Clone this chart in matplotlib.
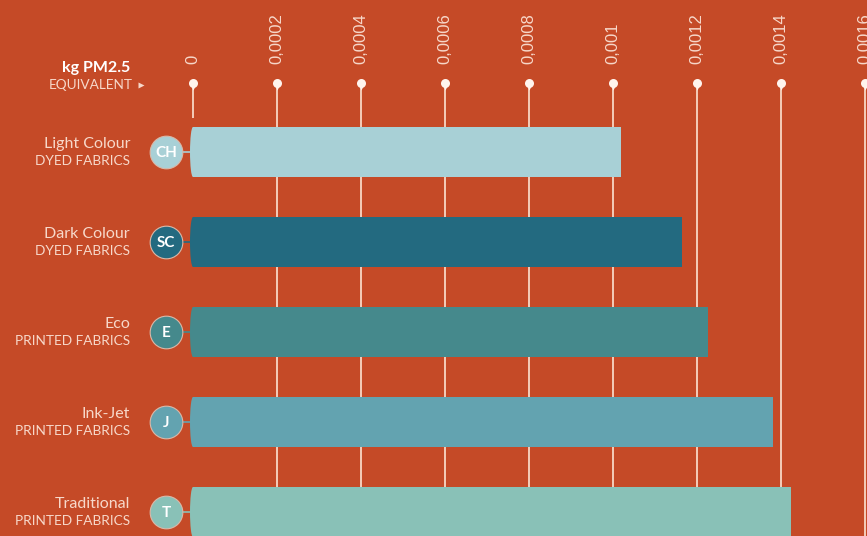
import matplotlib
matplotlib.use("Agg")
import matplotlib.pyplot as plt
from matplotlib.patches import Ellipse

# Emission data (kg PM2.5 equivalent)
codes = ["CH", "SC", "E", "J", "T"]
names = ["Light Colour", "Dark Colour", "Eco", "Ink-Jet", "Traditional"]
kinds = ["DYED FABRICS", "DYED FABRICS", "PRINTED FABRICS", "PRINTED FABRICS", "PRINTED FABRICS"]
values = [0.00102, 0.001165, 0.001225, 0.00138, 0.001424]
tick_values = [0, 0.0002, 0.0004, 0.0006, 0.0008, 0.001, 0.0012, 0.0014, 0.0016]
tick_labels = ["0", "0,0002", "0,0004", "0,0006", "0,0008", "0,001", "0,0012", "0,0014", "0,0016"]

bar_colors = ["#a8d0d6", "#236a80", "#45898c", "#63a3b0", "#89c1b7"]
bg = "#c54a27"
light = "#f7d8ca"
line_col = "#f5cdb9"

W, H = 867, 536
fig = plt.figure(figsize=(W / 100, H / 100), dpi=100, facecolor=bg)
ax = fig.add_axes([0, 0, 1, 1])
ax.set_facecolor(bg)

# pixel layout of the value axis
x0_px, px_per_unit = 193, 420000.0
row0_px, row_px = 152, 90.0
ax.set_xlim(-x0_px / px_per_unit, (W - x0_px) / px_per_unit)
ax.set_ylim((H - row0_px) / row_px, -row0_px / row_px)
ax.axis("off")

def px_x(p):
    return p / px_per_unit

def px_y(p):
    return p / row_px

bar_h = px_y(50)
dot_y = px_y(83 - row0_px)
label_y = px_y(64 - row0_px)

# vertical guide lines with pin heads
for v, lab in zip(tick_values, tick_labels):
    y_end = px_y(118 - row0_px) if v == 0 else px_y(H - row0_px)
    ax.plot([v, v], [dot_y, y_end], color=line_col, lw=1.4, zorder=1,
            solid_capstyle="butt")
    ax.plot([v], [dot_y], marker="o", ms=6.5, color="#fff4ee", mec="none", zorder=3)
    ax.plot([v], [dot_y + px_y(4)], marker="v", ms=4.5, color="#fff4ee", mec="none", zorder=3)
    ax.text(v, label_y, lab, rotation=90, ha="center", va="bottom",
            color=light, fontsize=12, family="Liberation Sans", zorder=3)

ys = list(range(len(values)))
ax.barh(ys, values, height=bar_h, color=bar_colors, zorder=2, linewidth=0)

circ_x = px_x(166 - x0_px)
for y, v, c, code, name, kind in zip(ys, values, bar_colors, codes, names, kinds):
    # slightly rounded left edge of the bar
    ax.add_patch(Ellipse((0, y), width=px_x(6), height=bar_h, color=c, lw=0, zorder=2))
    # connector and badge
    ax.plot([circ_x, 0], [y, y], color=c, lw=1.2, zorder=2)
    ax.plot([circ_x], [y], marker="o", ms=23.5, color=c, mec="#d9b8a8", mew=0.8, zorder=4)
    ax.text(circ_x, y + px_y(1), code, ha="center", va="center", color="white",
            fontsize=11, fontweight="bold", family="Lato", zorder=5)
    ax.text(px_x(130 - x0_px), y - px_y(8), name, ha="right", va="center",
            color=light, fontsize=11.5, family="Lato", zorder=5)
    ax.text(px_x(130 - x0_px), y + px_y(9), kind, ha="right", va="center",
            color=light, fontsize=9.8, family="Lato", zorder=5)

# unit caption
ax.text(px_x(130 - x0_px), px_y(68 - row0_px), "kg PM2.5", ha="right", va="center",
        color="white", fontsize=11.5, fontweight="bold", family="Lato")
ax.text(px_x(133 - x0_px), px_y(85 - row0_px), "EQUIVALENT", ha="right", va="center",
        color=light, fontsize=9.8, family="Lato")
ax.plot([px_x(141 - x0_px)], [px_y(85 - row0_px)], marker=">", ms=4.5,
        color=light, mec="none")

fig.savefig("out.png", dpi=100, facecolor=bg)
